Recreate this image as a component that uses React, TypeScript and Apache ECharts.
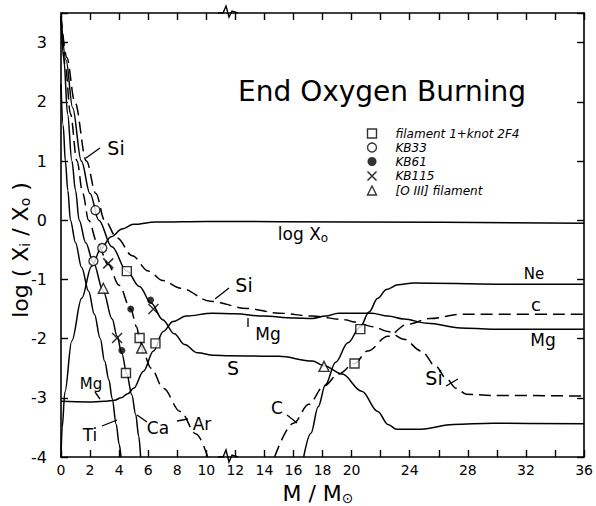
import React, { useEffect, useRef } from "react";
import * as echarts from "echarts";

const FONT = "DejaVu Sans";

// curves [M/Msun, log(Xi/XO)]
const tiCurve = [[0,2.3],[0.15,1.6],[0.3,1.0],[0.47,0.5],[0.65,0.0],[1.0,-0.38],[1.42,-0.8],[1.9,-1.2],[2.3,-1.59],[2.7,-2.0],[3.0,-2.38],[3.3,-2.7],[3.52,-3.01],[3.8,-3.45],[4.0,-3.78],[4.13,-4.0]];
const caCurve = [[0,3.45],[0.2,2.7],[0.45,1.8],[0.75,1.0],[1.0,0.5],[1.25,0.0],[1.7,-0.38],[2.23,-0.72],[2.91,-1.2],[3.52,-1.67],[3.86,-1.96],[4.19,-2.25],[4.53,-2.6],[4.87,-2.95],[5.14,-3.28],[5.35,-3.65],[5.48,-4.0]];
const arCurve = [[0,3.45],[0.3,2.6],[0.65,1.8],[1.1,1.0],[1.5,0.45],[1.9,0.0],[2.5,-0.38],[3.25,-0.75],[4.0,-1.1],[4.8,-1.5],[5.2,-1.8],[5.45,-2.05],[5.7,-2.27],[6.2,-2.5],[7.04,-2.84],[8.2,-3.23],[9.3,-3.61],[10.1,-4.0]];
const sCurve = [[0,3.45],[0.35,2.7],[0.8,1.9],[1.4,1.0],[2.0,0.45],[2.6,0.0],[3.5,-0.45],[4.53,-0.86],[5.4,-1.12],[6.2,-1.4],[7.0,-1.68],[7.8,-1.92],[8.5,-2.1],[9.4,-2.24],[10.5,-2.28],[11.6,-2.29],[15,-2.3],[17.3,-2.38],[18.1,-2.46],[19.35,-2.6],[20.7,-2.89],[21.8,-3.23],[22.5,-3.45],[23.1,-3.53],[24.8,-3.53],[27,-3.45],[29.7,-3.43],[36,-3.44]];
const siCurve = [[0,3.45],[0.4,2.75],[0.95,2.0],[1.75,1.0],[2.4,0.45],[3.0,0.0],[3.86,-0.3],[4.9,-0.6],[6.02,-0.86],[7.0,-1.02],[8.25,-1.15],[10.3,-1.37],[12.8,-1.49],[15.0,-1.57],[17.3,-1.62],[19.55,-1.68],[20.2,-1.72],[21.5,-1.8],[22.5,-1.88],[23.6,-2.01],[24.8,-2.21],[25.8,-2.47],[26.5,-2.67],[27.2,-2.84],[27.9,-2.94],[29.7,-2.96],[36,-2.97]];
const logXO = [[0,-4.0],[0.08,-3.5],[0.27,-2.9],[0.74,-2.04],[1.42,-1.32],[2.1,-0.78],[2.77,-0.47],[3.45,-0.28],[4.2,-0.15],[5.0,-0.07],[6.5,-0.03],[10,-0.02],[20,-0.03],[36,-0.05]];
const mgCurve = [[0,-3.06],[1.83,-3.07],[2.98,-3.06],[3.7,-3.04],[4.13,-3.0],[4.6,-2.93],[5.0,-2.84],[5.68,-2.55],[6.36,-2.21],[7.04,-1.88],[7.71,-1.71],[8.6,-1.62],[10.4,-1.57],[12,-1.58],[13.9,-1.62],[16,-1.65],[17.3,-1.66],[18.2,-1.62],[19.1,-1.57],[21.4,-1.57],[22.5,-1.62],[23.6,-1.67],[25.2,-1.74],[27.5,-1.82],[29.7,-1.84],[36,-1.84]];
const neCurve = [[16.7,-4.0],[17.2,-3.6],[17.7,-3.15],[18.2,-2.78],[18.9,-2.4],[19.75,-2.07],[20.6,-1.8],[21.2,-1.55],[21.8,-1.32],[22.4,-1.17],[23.2,-1.09],[24.3,-1.06],[30,-1.08],[36,-1.08]];
const cCurve = [[14.7,-4.0],[16.0,-3.43],[17.05,-3.11],[18.1,-2.8],[19.1,-2.6],[20.2,-2.42],[21.1,-2.21],[22.5,-1.96],[23.8,-1.76],[25.4,-1.66],[27.5,-1.59],[36,-1.59]];

// observed points
const filamentKnot = [[4.53,-0.86],[5.41,-1.99],[6.5,-2.08],[4.47,-2.58],[20.6,-1.84],[20.2,-2.42]];
const kb33 = [[2.37,0.17],[2.84,-0.47],[2.23,-0.69]];
const kb61 = [[6.16,-1.35],[4.8,-1.5],[4.19,-2.2]];
const kb115 = [[3.25,-0.73],[6.36,-1.5],[3.86,-1.99]];
const oiiiFilament = [[2.91,-1.15],[5.55,-2.16],[18.1,-2.47]];

const legendNames = ["filament 1+knot 2F4", "KB33", "KB61", "KB115", "[O III] filament"];

const CROSS = "path://M0,0L10,10M10,0L0,10";
const DASH = [12, 6];

function lineSeries(name: string, data: number[][], dashed: boolean) {
  return {
    name,
    type: "line",
    data,
    showSymbol: false,
    smooth: 0.35,
    smoothMonotone: "x",
    silent: true,
    lineStyle: { color: "#000", width: 1.5, type: dashed ? DASH : "solid" },
    z: 2,
  };
}

function txt(text: string, x: number, y: number, size: number, extra: any = {}) {
  return {
    type: "text",
    x,
    y,
    style: {
      text,
      fill: "#000",
      font: `${size}px "${FONT}"`,
      align: "center",
      verticalAlign: "middle",
      ...extra,
    },
  };
}

function seg(x1: number, y1: number, x2: number, y2: number) {
  return { type: "line", shape: { x1, y1, x2, y2 }, style: { stroke: "#000", lineWidth: 1.3 } };
}

export default function App() {
  const ref = useRef<HTMLDivElement>(null);
  useEffect(() => {
    document.body.style.margin = "0";
    const chart = echarts.init(ref.current!, null, { renderer: "svg" });
    const axisCommon = {
      axisLine: { show: true, onZero: false, lineStyle: { color: "#000", width: 1.6 } },
      axisTick: { show: true, inside: true, length: 7, lineStyle: { color: "#000", width: 1.4 } },
      splitLine: { show: false },
    };
    const openItem = { color: "#fff", borderColor: "#000", borderWidth: 1.4 };
    chart.setOption({
      animation: false,
      backgroundColor: "#fff",
      grid: { left: 61, right: 3, top: 13, bottom: 49 },
      xAxis: [
        {
          type: "value", min: 0, max: 36, interval: 2, position: "bottom",
          ...axisCommon,
          axisLabel: {
            color: "#000", fontFamily: FONT, fontSize: 14, margin: 6,
            formatter: (v: number) => (v <= 20 || v % 4 === 0 ? String(v) : ""),
          },
        },
        {
          type: "value", min: 0, max: 36, interval: 2, position: "top",
          ...axisCommon,
          axisLabel: { show: false },
        },
      ],
      yAxis: [
        {
          type: "value", min: -4, max: 3.5, interval: 1, position: "left",
          ...axisCommon,
          axisLabel: {
            color: "#000", fontFamily: FONT, fontSize: 16, margin: 14,
            formatter: (v: number) => (Number.isInteger(v) ? String(v) : ""),
          },
        },
        {
          type: "value", min: -4, max: 3.5, interval: 1, position: "right",
          ...axisCommon,
          axisLabel: { show: false },
        },
      ],
      legend: {
        orient: "vertical",
        left: 360,
        top: 122,
        itemWidth: 9,
        itemHeight: 9,
        itemGap: 1,
        selectedMode: false,
        textStyle: { color: "#000", fontFamily: FONT, fontSize: 12, fontStyle: "italic", lineHeight: 13, padding: [0, 0, 0, 14] },
        data: [
          { name: legendNames[0], icon: "rect", itemStyle: openItem },
          { name: legendNames[1], icon: "circle", itemStyle: openItem },
          { name: legendNames[2], icon: "circle", itemStyle: { color: "#000", borderWidth: 0 } },
          { name: legendNames[3], icon: CROSS, itemStyle: { color: "none", borderColor: "#000", borderWidth: 1.6 } },
          { name: legendNames[4], icon: "triangle", itemStyle: openItem },
        ],
      },
      series: [
        lineSeries("Ti", tiCurve, false),
        lineSeries("Ca", caCurve, false),
        lineSeries("Ar", arCurve, true),
        lineSeries("S", sCurve, false),
        lineSeries("Si", siCurve, true),
        lineSeries("log XO", logXO, false),
        lineSeries("Mg", mgCurve, false),
        lineSeries("Ne", neCurve, false),
        lineSeries("C", cCurve, true),
        { name: legendNames[0], type: "scatter", data: filamentKnot, symbol: "rect", symbolSize: 9, itemStyle: openItem, z: 5 },
        { name: legendNames[1], type: "scatter", data: kb33, symbol: "circle", symbolSize: 9, itemStyle: openItem, z: 5 },
        { name: legendNames[2], type: "scatter", data: kb61, symbol: "circle", symbolSize: 7, itemStyle: { color: "#000" }, z: 5 },
        { name: legendNames[3], type: "scatter", data: kb115, symbol: CROSS, symbolSize: 10, itemStyle: { color: "none", borderColor: "#000", borderWidth: 1.6 }, z: 5 },
        { name: legendNames[4], type: "scatter", data: oiiiFilament, symbol: "triangle", symbolSize: 10, itemStyle: openItem, z: 5 },
      ],
      graphic: [
        txt("End Oxygen Burning", 382, 91, 28),
        {
          type: "text", x: 303, y: 234,
          style: {
            text: "log X{s|o}", fill: "#000", font: `17px "${FONT}"`, align: "center", verticalAlign: "middle",
            rich: { s: { fontSize: 12, fontFamily: FONT, padding: [8, 0, 0, 0] } },
          },
        },
        txt("Si", 116, 148, 19),
        seg(100, 148, 86, 158),
        txt("Si", 244, 285, 19),
        seg(229, 288, 215, 299),
        txt("Mg", 268, 334, 17),
        seg(248, 318, 248, 327),
        txt("S", 233, 368, 19),
        txt("Ne", 534, 274, 15),
        txt("c", 536, 304, 18),
        txt("Mg", 543, 340, 17),
        txt("Si", 434, 378, 19),
        seg(446, 386, 458, 379),
        txt("Mg", 91, 384, 15),
        seg(95, 392, 100, 399),
        txt("Ti", 90, 435, 17),
        seg(102, 426, 117, 420),
        txt("Ca", 158, 428, 17),
        seg(137, 415, 147, 422),
        txt("Ar", 202, 424, 17),
        seg(177, 421, 188, 419),
        txt("C", 277, 408, 17),
        seg(287, 415, 297, 423),
        {
          type: "polyline",
          shape: { points: [[218, 457], [223, 457], [226, 450], [229, 462], [232, 455], [238, 457]] },
          style: { stroke: "#000", lineWidth: 1.4, fill: "none" },
        },
        {
          type: "polyline",
          shape: { points: [[218, 13], [223, 13], [226, 6], [229, 17], [232, 11], [238, 13]] },
          style: { stroke: "#000", lineWidth: 1.4, fill: "none" },
        },
        {
          type: "text", x: 20, y: 250, rotation: Math.PI / 2,
          style: {
            text: "log ( X{s|i} / X{s|o} )", fill: "#000", font: `22px "${FONT}"`, align: "center", verticalAlign: "middle",
            rich: { s: { fontSize: 14, fontFamily: FONT, padding: [10, 0, 0, 0] } },
          },
        },
        {
          type: "text", x: 318, y: 493,
          style: {
            text: "M / M{s|⊙}", fill: "#000", font: `22px "${FONT}"`, align: "center", verticalAlign: "middle",
            rich: { s: { fontSize: 14, fontFamily: FONT, padding: [10, 0, 0, 0] } },
          },
        },
      ],
    });
    return () => chart.dispose();
  }, []);
  return <div ref={ref} style={{ width: 596, height: 506 }} />;
}
